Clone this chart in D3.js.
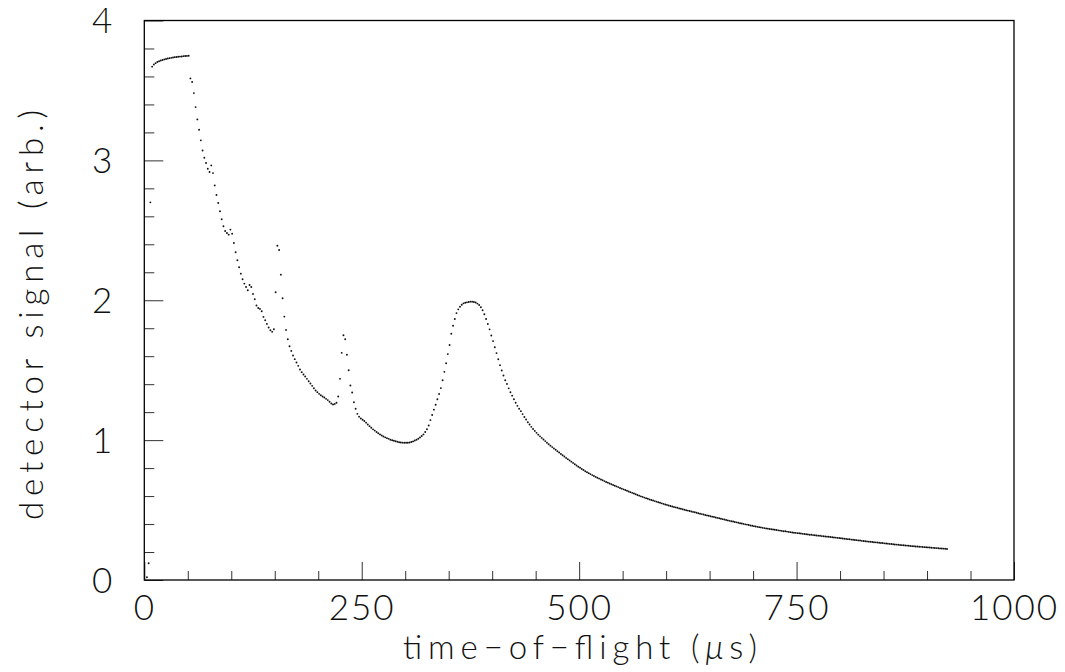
<!DOCTYPE html>
<html>
<head>
<meta charset="utf-8">
<script src="https://d3js.org/d3.v7.min.js"></script>
<style>
  body { margin: 0; background: #fff; }
  #chart text { font-family: Lato, "DejaVu Sans", sans-serif; font-weight: 300; fill: #111; }
  #chart .tick line { stroke: #333; stroke-width: 1; }
</style>
</head>
<body>
<svg id="chart" width="1065" height="672"></svg>
<script>
// time bins are 2 us wide; each block gives its first bin time
const dt = 2;

// t = 3 .. 51 us
const plateauStart = 3;
const plateau = [
  0.02, 0.12, 2.70, 3.670, 3.685, 3.695, 3.703, 3.709, 3.714, 3.718,
  3.722, 3.725, 3.728, 3.731, 3.733, 3.736, 3.738, 3.739, 3.741, 3.742,
  3.743, 3.745, 3.746, 3.747, 3.748
];

// t = 53 .. 247 us
const fallStart = 53;
const fall = [
  3.586, 3.560, 3.481, 3.381, 3.293, 3.219, 3.143, 3.071, 3.019, 2.981,
  2.940, 2.917, 2.964, 2.909, 2.821, 2.752, 2.695, 2.636, 2.579, 2.529,
  2.495, 2.481, 2.469, 2.505, 2.476, 2.409, 2.343, 2.286, 2.236, 2.190,
  2.150, 2.119, 2.095, 2.071, 2.109, 2.095, 2.045, 2.007, 1.962, 1.945,
  1.938, 1.921, 1.881, 1.857, 1.831, 1.805, 1.786, 1.774, 1.793, 2.057,
  2.390, 2.359, 2.183, 2.014, 1.883, 1.788, 1.721, 1.671, 1.638, 1.605,
  1.579, 1.555, 1.531, 1.505, 1.486, 1.469, 1.455, 1.438, 1.421, 1.405,
  1.388, 1.371, 1.355, 1.343, 1.331, 1.321, 1.312, 1.305, 1.295, 1.286,
  1.274, 1.262, 1.255, 1.259, 1.267, 1.312, 1.438, 1.624, 1.750, 1.721,
  1.610, 1.500, 1.390, 1.340, 1.271, 1.224, 1.188, 1.168
];

// t = 249 .. 485 us
const peakStart = 249;
const peak = [
  1.155, 1.146, 1.137, 1.125, 1.112, 1.100, 1.088, 1.077, 1.068, 1.058,
  1.049, 1.041, 1.033, 1.026, 1.020, 1.014, 1.009, 1.003, 0.999, 0.995,
  0.992, 0.988, 0.985, 0.983, 0.982, 0.981, 0.981, 0.981, 0.983, 0.987,
  0.991, 0.997, 1.003, 1.010, 1.019, 1.029, 1.041, 1.058, 1.078, 1.105,
  1.143, 1.180, 1.218, 1.253, 1.292, 1.330, 1.372, 1.428, 1.488, 1.550,
  1.615, 1.680, 1.760, 1.818, 1.866, 1.908, 1.935, 1.953, 1.968, 1.978,
  1.982, 1.985, 1.988, 1.990, 1.990, 1.988, 1.984, 1.976, 1.966, 1.950,
  1.928, 1.900, 1.866, 1.830, 1.792, 1.748, 1.708, 1.664, 1.622, 1.578,
  1.536, 1.498, 1.462, 1.428, 1.402, 1.370, 1.342, 1.318, 1.292, 1.267,
  1.245, 1.224, 1.207, 1.186, 1.165, 1.147, 1.128, 1.112, 1.095, 1.080,
  1.066, 1.052, 1.039, 1.027, 1.016, 1.004, 0.993, 0.981, 0.970, 0.960,
  0.950, 0.941, 0.931, 0.921, 0.912, 0.901, 0.892, 0.883, 0.873
];

// t = 487 .. 923 us
const tailStart = 487;
const tail = [
  0.864, 0.855, 0.846, 0.837, 0.828, 0.819, 0.810, 0.802, 0.794, 0.786,
  0.778, 0.771, 0.764, 0.757, 0.750, 0.743, 0.737, 0.731, 0.725, 0.719,
  0.713, 0.707, 0.701, 0.696, 0.690, 0.685, 0.679, 0.674, 0.669, 0.664,
  0.658, 0.653, 0.648, 0.643, 0.638, 0.633, 0.628, 0.623, 0.618, 0.613,
  0.608, 0.603, 0.598, 0.594, 0.589, 0.585, 0.581, 0.576, 0.572, 0.568,
  0.564, 0.560, 0.556, 0.552, 0.548, 0.544, 0.540, 0.537, 0.533, 0.529,
  0.526, 0.522, 0.519, 0.516, 0.512, 0.509, 0.506, 0.502, 0.499, 0.496,
  0.493, 0.490, 0.487, 0.484, 0.481, 0.477, 0.474, 0.471, 0.468, 0.465,
  0.462, 0.459, 0.456, 0.453, 0.450, 0.447, 0.444, 0.441, 0.438, 0.435,
  0.432, 0.429, 0.426, 0.423, 0.420, 0.418, 0.415, 0.412, 0.409, 0.406,
  0.404, 0.401, 0.398, 0.396, 0.393, 0.390, 0.388, 0.385, 0.383, 0.380,
  0.378, 0.376, 0.373, 0.371, 0.369, 0.367, 0.365, 0.363, 0.361, 0.359,
  0.357, 0.355, 0.353, 0.351, 0.349, 0.348, 0.346, 0.344, 0.342, 0.340,
  0.338, 0.337, 0.335, 0.334, 0.332, 0.330, 0.329, 0.327, 0.326, 0.324,
  0.323, 0.321, 0.320, 0.318, 0.317, 0.316, 0.314, 0.313, 0.311, 0.310,
  0.309, 0.307, 0.306, 0.304, 0.303, 0.301, 0.300, 0.298, 0.297, 0.295,
  0.294, 0.292, 0.291, 0.289, 0.288, 0.286, 0.285, 0.283, 0.282, 0.280,
  0.279, 0.277, 0.276, 0.274, 0.273, 0.272, 0.270, 0.269, 0.268, 0.266,
  0.265, 0.264, 0.262, 0.261, 0.260, 0.258, 0.257, 0.256, 0.254, 0.253,
  0.252, 0.250, 0.249, 0.248, 0.247, 0.246, 0.245, 0.243, 0.242, 0.241,
  0.240, 0.239, 0.238, 0.237, 0.236, 0.235, 0.234, 0.233, 0.232, 0.231,
  0.230, 0.229, 0.228, 0.227, 0.226, 0.225, 0.224, 0.223, 0.222
];

const xMajor = [0, 250, 500, 750, 1000];
const xMinor = [50, 100, 150, 200, 300, 350, 400, 450, 550, 600, 650, 700, 800, 850, 900, 950];
const yMajor = [0, 1, 2, 3, 4];
const yMinor = [0.2, 0.4, 0.6, 0.8, 1.2, 1.4, 1.6, 1.8, 2.2, 2.4, 2.6, 2.8, 3.2, 3.4, 3.6, 3.8];

function block(start, vals) {
  return vals.map((v, i) => ({ t: start + i * dt, v: v }));
}
const points = [].concat(
  block(plateauStart, plateau),
  block(fallStart, fall),
  block(peakStart, peak),
  block(tailStart, tail)
);

const svg = d3.select("#chart");
const plotL = 144.3, plotR = 1014, plotT = 20.5, plotB = 580;

const x = d3.scaleLinear().domain([0, 1000]).range([plotL, plotR]);
const y = d3.scaleLinear().domain([0, 4]).range([plotB, plotT]);

// minor ticks
svg.append("g")
  .attr("transform", "translate(" + plotL + ",0)")
  .call(d3.axisLeft(y).tickValues(yMinor).tickSize(-10).tickFormat(""))
  .call(g => g.select(".domain").remove());
svg.append("g")
  .attr("transform", "translate(0," + plotB + ")")
  .call(d3.axisBottom(x).tickValues(xMinor).tickSize(-9).tickFormat(""))
  .call(g => g.select(".domain").remove());

// major ticks + labels
svg.append("g")
  .attr("transform", "translate(" + plotL + ",0)")
  .call(d3.axisLeft(y).tickValues(yMajor).tickSize(-19).tickPadding(32).tickFormat(d3.format("d")))
  .call(g => g.select(".domain").remove())
  .call(g => g.selectAll("text").attr("font-size", 35).attr("dy", "0.35em"));
svg.append("g")
  .attr("transform", "translate(0," + plotB + ")")
  .call(d3.axisBottom(x).tickValues(xMajor).tickSize(-18).tickPadding(15).tickFormat(d3.format("d")))
  .call(g => g.select(".domain").remove())
  .call(g => g.selectAll("text").attr("font-size", 35).attr("letter-spacing", 2));

// frame
svg.append("rect")
  .attr("x", plotL).attr("y", plotT)
  .attr("width", plotR - plotL).attr("height", plotB - plotT)
  .attr("fill", "none").attr("stroke", "#000").attr("stroke-width", 1.3);

// data points
svg.append("g").selectAll("circle")
  .data(points)
  .enter().append("circle")
  .attr("cx", d => x(d.t))
  .attr("cy", d => y(d.v))
  .attr("r", 0.95)
  .attr("fill", "#111");

// axis titles
const xt = svg.append("text")
  .attr("x", 403).attr("y", 659)
  .attr("font-size", 33)
  .attr("textLength", 354)
  .attr("lengthAdjust", "spacing");
xt.append("tspan").text("time\u2212of\u2212flight (");
xt.append("tspan").attr("font-style", "italic").text("\u03bc");
xt.append("tspan").text("s)");

svg.append("text")
  .attr("transform", "translate(43,520) rotate(-90)")
  .attr("font-size", 33)
  .attr("textLength", 410)
  .attr("lengthAdjust", "spacing")
  .text("detector signal (arb.)");
</script>
</body>
</html>
